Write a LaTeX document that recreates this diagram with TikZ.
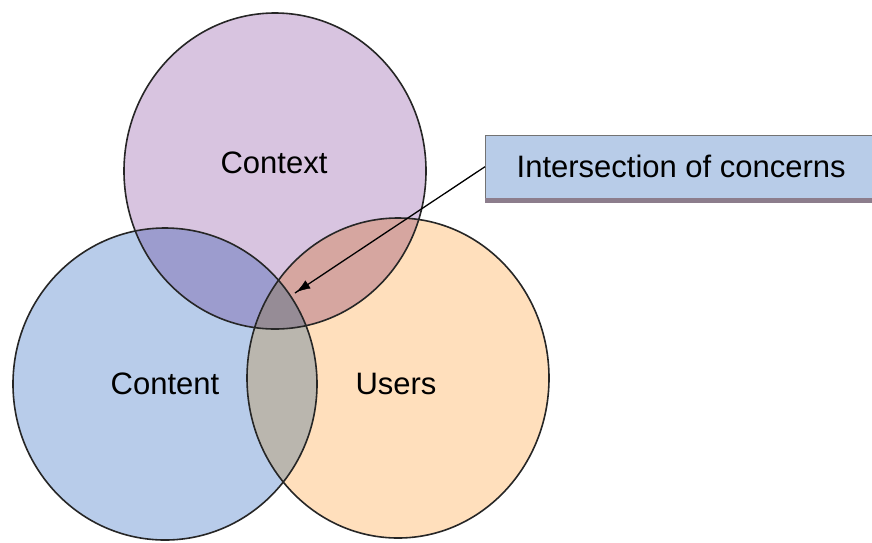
\documentclass[tikz,border=0pt]{standalone}
\usepackage{fontspec}
\setmainfont{Liberation Sans}
\usepackage{tikz}
\usetikzlibrary{positioning, calc, arrows.meta, decorations.markings}
\definecolor{ctxfill}{RGB}{216,196,224}
\definecolor{cntfill}{RGB}{184,204,234}
\definecolor{usrfill}{RGB}{255,223,188}
\definecolor{ctxcnt}{RGB}{156,156,206}
\definecolor{ctxusr}{RGB}{214,166,160}
\definecolor{cntusr}{RGB}{186,182,174}
\definecolor{allthree}{RGB}{150,140,150}
\definecolor{boxfill}{RGB}{184,204,232}
\definecolor{boxshade}{RGB}{140,125,140}
\tikzstyle{Pointer} = [
%Pointer from the callout box:
line width=1.3pt,
decoration={
markings,
mark=at position 1 with {
\arrow{Latex[length=16pt,width=11pt]}
}
},
preaction = {decorate}
]

\begin{document}
\begin{tikzpicture}[x=1pt, y=-1pt,
			setlabel/.style = {font=\fontsize{31}{37}\selectfont, text=black},
			outline/.style = {draw=black!85, line width=1.6pt},
			callout/.style = {rectangle, draw=black!55, fill=boxfill, anchor=north west, minimum width=392pt, minimum height=63pt, inner sep=0pt, font=\fontsize{31}{37}\selectfont},
		]
		\useasboundingbox (0,0) rectangle (872,542);
		\coordinate(CtxC) at (275,171);
		\coordinate(CntC) at (165,384);
		\coordinate(UsrC) at (398,378);

		\fill[ctxfill](CtxC) ellipse [x radius=151, y radius=158];
		\fill[cntfill](CntC) ellipse [x radius=152, y radius=156];
		\fill[usrfill](UsrC) ellipse [x radius=151, y radius=160];

		\begin{scope}
			\clip(CtxC) ellipse [x radius=151, y radius=158];
			\fill[ctxcnt](CntC) ellipse [x radius=152, y radius=156];
			\fill[ctxusr](UsrC) ellipse [x radius=151, y radius=160];
		\end{scope}
		\begin{scope}
			\clip(CntC) ellipse [x radius=152, y radius=156];
			\fill[cntusr](UsrC) ellipse [x radius=151, y radius=160];
			\clip(CtxC) ellipse [x radius=151, y radius=158];
			\fill[allthree](UsrC) ellipse [x radius=151, y radius=160];
		\end{scope}

		\draw[outline](CtxC) ellipse [x radius=151, y radius=158];
		\draw[outline](CntC) ellipse [x radius=152, y radius=156];
		\draw[outline](UsrC) ellipse [x radius=151, y radius=160];

		\node[setlabel](Context) at (274,163){Context};
		\node[setlabel](Content) at (165,384){Content};
		\node[setlabel](Users) at (396,384){Users};

		\node[callout](concern) at (485,135){Intersection of concerns};
		\fill[boxshade](concern.south west) rectangle ($(concern.south east)+(0,5)$);

		\coordinate(meet) at (295,293);
		\draw[Pointer](concern.west)--(meet);

	\end{tikzpicture}
\end{document}
